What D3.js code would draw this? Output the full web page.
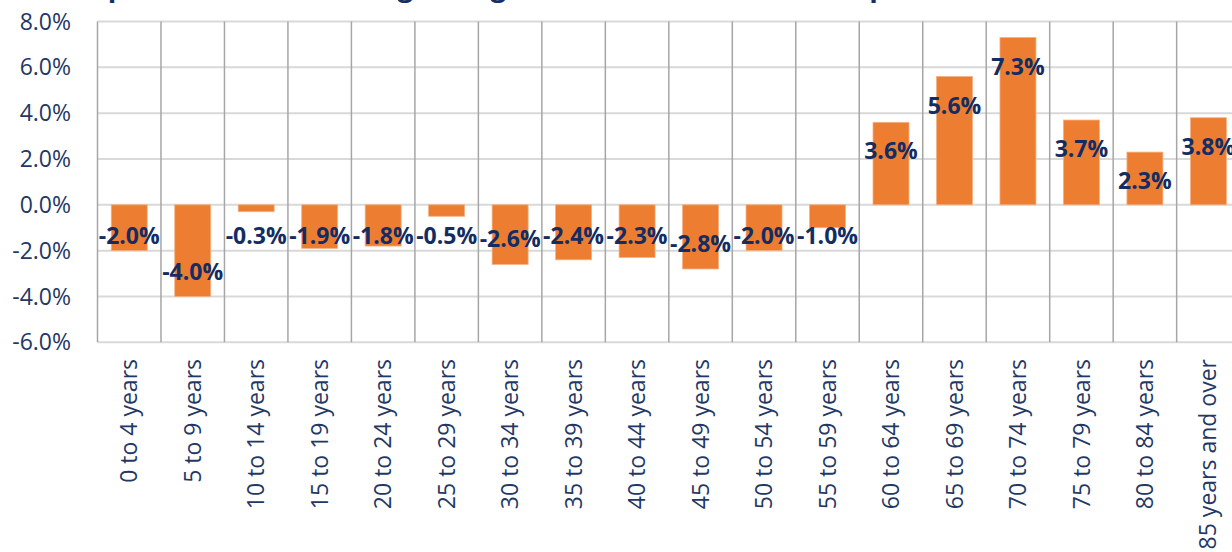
<!DOCTYPE html>
<html>
<head>
<meta charset="utf-8">
<script src="https://cdn.jsdelivr.net/npm/d3@7"></script>
<style>
  body { margin: 0; background: #fff; }
  text { font-family: "Open Sans", sans-serif; fill: #1f3864; }
</style>
</head>
<body>
<div id="chart"></div>
<script>
// age groups and change in share of population (%)
const ageGroups = ["0 to 4 years", "5 to 9 years", "10 to 14 years", "15 to 19 years",
  "20 to 24 years", "25 to 29 years", "30 to 34 years", "35 to 39 years",
  "40 to 44 years", "45 to 49 years", "50 to 54 years", "55 to 59 years",
  "60 to 64 years", "65 to 69 years", "70 to 74 years", "75 to 79 years",
  "80 to 84 years", "85 years and over"];
const changes = [-2.0, -4.0, -0.3, -1.9, -1.8, -0.5, -2.6, -2.4, -2.3, -2.8, -2.0, -1.0,
  3.6, 5.6, 7.3, 3.7, 2.3, 3.8];
const yTicks = [-6, -4, -2, 0, 2, 4, 6, 8];
const titleText = "Expected Percent Change in Age Cohort Share of Total Population";

const W = 1232, H = 552;
const plotLeft = 97.5, step = 63.48;
const plotTop = 21.5, plotBottom = 342.3;

const svg = d3.select("#chart").append("svg")
  .attr("width", W)
  .attr("height", H);

const x = d3.scaleBand()
  .domain(ageGroups)
  .range([plotLeft, plotLeft + step * ageGroups.length])
  .padding(0);

const y = d3.scaleLinear()
  .domain([-6, 8])
  .range([plotBottom, plotTop]);

const fmt = d => d.toFixed(1) + "%";

// title (mostly cropped off the top, only descenders show)
svg.append("text")
  .attr("x", 76)
  .attr("y", -4)
  .attr("font-size", 28)
  .attr("font-weight", "bold")
  .style("fill", "#163066")
  .text(titleText);

// horizontal gridlines
svg.append("g")
  .selectAll("line")
  .data(yTicks)
  .join("line")
    .attr("x1", plotLeft)
    .attr("x2", x.range()[1])
    .attr("y1", d => y(d))
    .attr("y2", d => y(d))
    .attr("stroke", "#d9d9d9")
    .attr("stroke-width", 2);

// vertical category separators
const bounds = ageGroups.map(g => x(g)).concat([x.range()[1]]);
svg.append("g")
  .selectAll("line")
  .data(bounds)
  .join("line")
    .attr("x1", d => d)
    .attr("x2", d => d)
    .attr("y1", y(8))
    .attr("y2", y(-6))
    .attr("stroke", "#a6a6a6")
    .attr("stroke-width", 1.5);

// y tick labels
svg.append("g")
  .selectAll("text")
  .data(yTicks)
  .join("text")
    .attr("x", 71)
    .attr("y", d => y(d))
    .attr("dy", "0.35em")
    .attr("text-anchor", "end")
    .attr("font-size", 23)
    .text(fmt);

// bars
const barW = x.bandwidth() * 0.567;
svg.append("g")
  .selectAll("rect")
  .data(changes)
  .join("rect")
    .attr("x", (d, i) => x(ageGroups[i]) + (x.bandwidth() - barW) / 2)
    .attr("width", barW)
    .attr("y", d => y(Math.max(0, d)))
    .attr("height", d => Math.abs(y(d) - y(0)))
    .attr("fill", "#ed7d31")
    .attr("stroke", "#f4b183")
    .attr("stroke-width", 0.8);

// category labels, rotated
svg.append("g")
  .selectAll("text")
  .data(ageGroups)
  .join("text")
    .attr("transform", d => `translate(${x(d) + x.bandwidth() / 2},359) rotate(-90)`)
    .attr("dy", "0.35em")
    .attr("text-anchor", "end")
    .attr("font-size", 23)
    .text(d => d);

// data labels
svg.append("g")
  .selectAll("text")
  .data(changes)
  .join("text")
    .attr("x", (d, i) => x(ageGroups[i]) + x.bandwidth() / 2)
    .attr("y", d => d >= 0 ? y(d) + 29 : Math.max(y(0) + 31, y(d) - 25))
    .attr("dy", "0.35em")
    .attr("text-anchor", "middle")
    .attr("font-size", 23)
    .attr("font-weight", "bold")
    .style("fill", "#132d63")
    .text(fmt);
</script>
</body>
</html>
